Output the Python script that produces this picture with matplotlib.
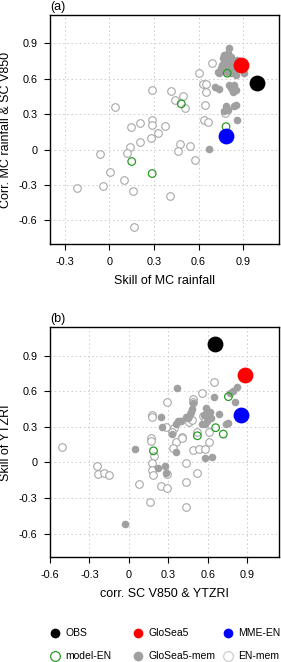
import matplotlib.pyplot as plt

plt.rcParams['font.family'] = ['Liberation Sans', 'DejaVu Sans']

# panel (a): skill of MC rainfall vs corr. MC rainfall & SC V850
a_obs_x, a_obs_y = [0.996], [0.563]
a_glo_x, a_glo_y = [0.889], [0.717]
a_mme_x, a_mme_y = [0.785], [0.112]
a_modelen_x = [0.793, 0.484, 0.785, 0.150, 0.288]
a_modelen_y = [0.647, 0.388, 0.194, -0.101, -0.203]
a_glomem_x = [0.805, 0.762, 0.818, 0.774, 0.752, 0.840, 0.907, 0.885, 0.740, 0.829,
              0.795, 0.780, 0.800, 0.860, 0.760, 0.820, 0.850, 0.790, 0.810, 0.770,
              0.730, 0.713, 0.740, 0.818, 0.829, 0.852, 0.840, 0.807, 0.785, 0.795,
              0.774, 0.852, 0.840, 0.856, 0.673]
a_glomem_y = [0.858, 0.774, 0.787, 0.731, 0.689, 0.675, 0.652, 0.703, 0.647, 0.731,
              0.816, 0.760, 0.700, 0.760, 0.720, 0.650, 0.630, 0.660, 0.740, 0.800,
              0.660, 0.529, 0.512, 0.521, 0.492, 0.506, 0.549, 0.549, 0.366, 0.338,
              0.323, 0.380, 0.371, 0.247, 0.006]
a_enmem_x = [0.689, 0.600, 0.629, 0.651, 0.647, 0.284, 0.415, 0.498, 0.444, 0.506,
             0.037, 0.642, 0.638, 0.667, 0.284, 0.286, 0.208, 0.144, 0.371, 0.326,
             0.277, 0.208, 0.139, 0.119, -0.064, 0.478, 0.540, 0.464, 0.573, 0.005,
             0.101, -0.046, -0.215, 0.159, 0.408, 0.168, 0.780]
a_enmem_y = [0.737, 0.650, 0.557, 0.557, 0.484, 0.506, 0.498, 0.458, 0.422, 0.349,
             0.363, 0.380, 0.250, 0.233, 0.247, 0.208, 0.225, 0.194, 0.203, 0.141,
             0.099, 0.062, 0.023, -0.028, -0.040, 0.045, 0.034, -0.014, -0.084, -0.191,
             -0.256, -0.306, -0.329, -0.354, -0.397, -0.656, 0.310]

# panel (b): corr. SC V850 & YTZRI vs skill of YTZRI
b_obs_x, b_obs_y = [0.658], [1.003]
b_glo_x, b_glo_y = [0.886], [0.738]
b_mme_x, b_mme_y = [0.853], [0.402]
b_modelen_x = [0.757, 0.660, 0.718, 0.521, 0.187]
b_modelen_y = [0.555, 0.293, 0.239, 0.225, 0.098]
b_glomem_x = [0.364, 0.820, 0.790, 0.769, 0.650, 0.807, 0.688, 0.585, 0.597, 0.617,
              0.572, 0.625, 0.592, 0.481, 0.471, 0.456, 0.435, 0.390, 0.453, 0.377,
              0.243, 0.255, 0.326, 0.752, 0.739, 0.043, 0.357, 0.582, 0.630, 0.225,
              0.276, 0.281, -0.033, 0.397, 0.465, 0.490, 0.359, 0.579, 0.554, 0.605]
b_glomem_y = [0.626, 0.639, 0.605, 0.583, 0.555, 0.507, 0.409, 0.459, 0.436, 0.423,
              0.400, 0.372, 0.352, 0.451, 0.423, 0.394, 0.380, 0.352, 0.372, 0.352,
              0.380, 0.296, 0.239, 0.330, 0.324, 0.112, 0.090, 0.039, 0.042, -0.046,
              -0.029, -0.085, -0.522, 0.352, 0.408, 0.500, 0.324, 0.324, 0.324, 0.394]
b_enmem_x = [0.648, 0.557, 0.291, 0.488, 0.486, 0.177, 0.177, 0.286, 0.342, 0.331,
             0.562, 0.577, 0.610, 0.460, 0.478, 0.407, 0.357, 0.169, 0.169, -0.506,
             0.339, 0.486, 0.536, 0.582, 0.519, 0.612, 0.192, 0.177, 0.172, 0.182,
             -0.246, -0.238, -0.193, -0.152, 0.076, 0.243, 0.289, 0.162, 0.435, 0.433,
             0.521, 0.435, 0.402, 0.287]
b_enmem_y = [0.676, 0.588, 0.512, 0.535, 0.512, 0.402, 0.380, 0.301, 0.287, 0.259,
             0.394, 0.352, 0.254, 0.338, 0.360, 0.211, 0.174, 0.205, 0.183, 0.132,
             0.118, 0.104, 0.112, 0.112, 0.254, 0.174, 0.056, -0.006, -0.063, -0.105,
             -0.034, -0.096, -0.085, -0.107, -0.181, -0.203, -0.215, -0.330, -0.164, -0.375,
             -0.085, -0.006, 0.203, -0.100]

a_xticks = [-0.3, 0, 0.3, 0.6, 0.9]
b_xticks = [-0.6, -0.3, 0, 0.3, 0.6, 0.9]
yticks = [-0.6, -0.3, 0, 0.3, 0.6, 0.9]

green = '#2a9a2a'
lightgray = '#a8a8a8'
memgray = '#a0a0a0'


def panel(ax, d, xticks, xlim, xlabel, ylabel, tag):
    (obs, glo, mme, men, gmem, enm) = d
    ax.scatter(*enm, s=30, facecolors='white', edgecolors=lightgray, linewidths=0.8, zorder=3)
    ax.scatter(*gmem, s=30, color=memgray, linewidths=0, zorder=4)
    ax.scatter(*men, s=30, facecolors='none', edgecolors=green, linewidths=0.9, zorder=5)
    ax.scatter(*mme, s=130, color='blue', linewidths=0, zorder=6)
    ax.scatter(*glo, s=130, color='red', linewidths=0, zorder=6)
    ax.scatter(*obs, s=130, color='black', linewidths=0, zorder=6)
    ax.set_xlim(xlim)
    ax.set_ylim(-0.8, 1.14)
    ax.set_xticks(xticks)
    ax.set_yticks(yticks)
    ax.set_xticklabels([f'{t:g}' for t in xticks])
    ax.set_yticklabels([f'{t:g}' for t in yticks])
    ax.grid(True, linestyle=(0, (2, 3)), color='#c8c8c8', linewidth=0.6)
    ax.set_axisbelow(True)
    ax.tick_params(direction='out', length=4, width=0.8, labelsize=7.8, pad=5)
    for s in ax.spines.values():
        s.set_linewidth(1.0)
    ax.set_xlabel(xlabel, fontsize=9, labelpad=6)
    ax.set_ylabel(ylabel, fontsize=9, labelpad=5)
    ax.text(0.0, 1.01, tag, transform=ax.transAxes, fontsize=9, va='bottom', ha='left')


fig = plt.figure(figsize=(2.81, 6.62), dpi=100)
ax1 = fig.add_axes([0.178, 0.6314, 0.814, 0.3459])
ax2 = fig.add_axes([0.178, 0.1582, 0.814, 0.3474])

panel(ax1, ((a_obs_x, a_obs_y), (a_glo_x, a_glo_y), (a_mme_x, a_mme_y),
            (a_modelen_x, a_modelen_y), (a_glomem_x, a_glomem_y), (a_enmem_x, a_enmem_y)),
      a_xticks, (-0.4, 1.14), 'Skill of MC rainfall', 'Corr. MC rainfall & SC V850', '(a)')
panel(ax2, ((b_obs_x, b_obs_y), (b_glo_x, b_glo_y), (b_mme_x, b_mme_y),
            (b_modelen_x, b_modelen_y), (b_glomem_x, b_glomem_y), (b_enmem_x, b_enmem_y)),
      b_xticks, (-0.6, 1.14), 'corr. SC V850 & YTZRI', 'Skill of YTZRI', '(b)')

# leyenda: tres columnas colocadas a mano
cols = [
    ([dict(color='black', mew=0), dict(mfc='none', mec=green, mew=0.9)], ['OBS', 'model-EN'], 50),
    ([dict(color='red', mew=0), dict(color=memgray, mew=0)], ['GloSea5', 'GloSea5-mem'], 133),
    ([dict(color='blue', mew=0), dict(mfc='none', mec='#c8c8c8', mew=0.8)], ['MME-EN', 'EN-mem'], 223),
]
for styles, labels, xm in cols:
    h = [plt.Line2D([], [], ls='', marker='o', ms=7, **st) for st in styles]
    fig.legend(h, labels, loc='center left', bbox_to_anchor=((xm - 9.4) / 281, 0.0257),
               frameon=False, fontsize=7.5, handletextpad=0.5, labelspacing=1.25,
               handlelength=1.0)

fig.savefig('out.png', dpi=100)
